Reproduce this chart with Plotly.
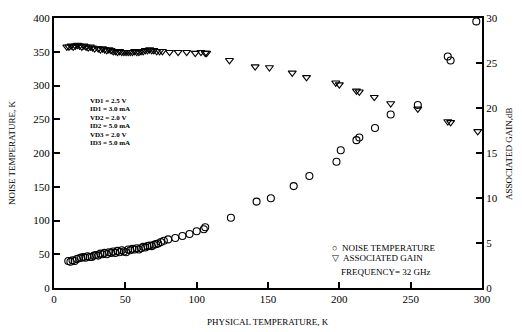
import plotly.graph_objects as go

# Noise temperature (K) vs physical temperature (K)
noise_x = [10, 11.5, 13, 14.5, 16, 17.5, 19, 20.5, 22, 23.5, 25, 26.5, 28, 29.5, 31, 32.5,
           34, 35.5, 37, 38.5, 40, 41.5, 43, 44.5, 46, 47.5, 49, 50.5, 52, 53.5, 55, 56.5,
           58, 59.5, 61, 62.5, 64, 65.5, 67, 68.5, 70, 71.5, 73, 75, 77, 80, 85, 90, 95,
           100, 105, 106, 124, 142, 152, 168, 179, 198, 201, 212, 214, 225, 236, 255,
           276, 278, 296]
noise_y = [40, 39, 41, 40, 43, 44, 45, 46, 45, 47, 46, 46, 48, 49, 48, 51, 50, 52, 50, 53,
           52, 54, 52, 55, 53, 56, 54, 53, 57, 56, 58, 57, 59, 57, 59, 61, 60, 62, 63, 62,
           64, 65, 66, 68, 70, 72, 74, 77, 80, 84, 87, 90, 104, 128, 133, 151, 166, 187,
           204, 219, 223, 237, 257, 271, 343, 337, 395]

# Associated gain (dB) vs physical temperature (K)
gain_x = [9, 10.5, 12, 13.5, 15, 16.5, 18, 19.5, 21, 22.5, 24, 25.5, 27, 28.5, 31, 32.5,
          34, 35.5, 37, 38.5, 40, 41.5, 43, 44.5, 46, 47.5, 49, 50.5, 52, 53.5, 55, 56.5,
          58, 59.5, 61, 62.5, 64, 65.5, 67, 68.5, 70, 72, 74, 76, 81, 87, 93, 99, 103,
          106, 107, 123, 141, 151, 167, 177, 197.5, 200, 212, 214, 224.5, 236, 255, 276,
          278, 297]
gain_y = [26.8, 26.8, 26.9, 26.8, 26.9, 27.0, 26.9, 26.8, 26.9, 26.8, 26.7, 26.8, 26.7,
          26.6, 26.6, 26.5, 26.6, 26.5, 26.4, 26.5, 26.4, 26.3, 26.3, 26.2, 26.3, 26.2,
          26.2, 26.2, 26.2, 26.2, 26.2, 26.3, 26.2, 26.2, 26.3, 26.3, 26.4, 26.4, 26.5,
          26.4, 26.4, 26.3, 26.3, 26.3, 26.2, 26.2, 26.2, 26.1, 26.2, 26.1, 26.1, 25.3,
          24.6, 24.5, 23.9, 23.4, 22.8, 22.6, 21.9, 21.8, 21.2, 20.5, 19.9, 18.5, 18.4,
          17.4]

x_ticks = [0, 50, 100, 150, 200, 250, 300]
y_ticks = [0, 50, 100, 150, 200, 250, 300, 350, 400]
y2_ticks = [0, 5, 10, 15, 20, 25, 30]

bias_lines = ["VD1 = 2.5 V", "ID1 = 3.0 mA", "VD2 = 2.0 V", "ID2 = 5.0 mA",
              "VD3 = 2.0 V", "ID3 = 5.0 mA"]
legend_lines = ["○  NOISE TEMPERATURE", "▽  ASSOCIATED GAIN", "FREQUENCY= 32 GHz"]

SERIF = "Liberation Serif, Times New Roman, serif"

fig = go.Figure()
fig.add_trace(go.Scatter(
    x=noise_x, y=noise_y, mode="markers", name="NOISE TEMPERATURE",
    marker=dict(symbol="circle-open", size=7, color="black", line=dict(width=1.1)),
))
fig.add_trace(go.Scatter(
    x=gain_x, y=gain_y, mode="markers", name="ASSOCIATED GAIN", yaxis="y2",
    marker=dict(symbol="triangle-down-open", size=7, color="black", line=dict(width=1.1)),
))

axis_common = dict(
    showgrid=False, zeroline=False, showline=True, linecolor="black", linewidth=2,
    ticks="inside", ticklen=6, tickwidth=1.5, tickcolor="black",
    tickfont=dict(family=SERIF, size=11, color="black"),
)

fig.update_layout(
    width=522, height=332,
    margin=dict(l=54, r=40, t=14, b=44),
    paper_bgcolor="white", plot_bgcolor="white",
    showlegend=False,
    xaxis=dict(range=[0, 300], tickvals=x_ticks, mirror=True, **axis_common),
    yaxis=dict(range=[0, 400], tickvals=y_ticks, **axis_common),
    yaxis2=dict(range=[0, 30], tickvals=y2_ticks, overlaying="y", side="right",
                **axis_common),
)

annos = []
annos.append(dict(text="PHYSICAL TEMPERATURE, K", x=0.5, y=(288 - 323) / 274,
                  xref="paper", yref="paper",
                  xanchor="center", yanchor="middle", showarrow=False,
                  font=dict(family=SERIF, size=9, color="black")))
annos.append(dict(text="NOISE TEMPERATURE, K", x=-0.098, y=0.5, xref="paper", yref="paper",
                  xanchor="center", yanchor="middle", textangle=-90, showarrow=False,
                  font=dict(family=SERIF, size=9, color="black")))
annos.append(dict(text="ASSOCIATED GAIN,dB", x=1.063, y=0.5, xref="paper", yref="paper",
                  xanchor="center", yanchor="middle", textangle=-90, showarrow=False,
                  font=dict(family=SERIF, size=9, color="black")))
for i, t in enumerate(bias_lines):
    annos.append(dict(text="<b>" + t + "</b>", x=0.08, y=(288 - 98 - i * 8.6) / 274,
                      xref="paper", yref="paper", xanchor="left", yanchor="middle",
                      showarrow=False, font=dict(family=SERIF, size=7, color="black")))
leg_pos = [(0.645, 41), (0.645, 30), (0.665, 16)]
for (lx, ly), t in zip(leg_pos, legend_lines):
    annos.append(dict(text=t, x=lx, y=ly / 274, xref="paper", yref="paper",
                      xanchor="left", yanchor="middle", showarrow=False,
                      font=dict(family=SERIF, size=9, color="black")))
fig.update_layout(annotations=annos)

fig.write_html("out.html")
